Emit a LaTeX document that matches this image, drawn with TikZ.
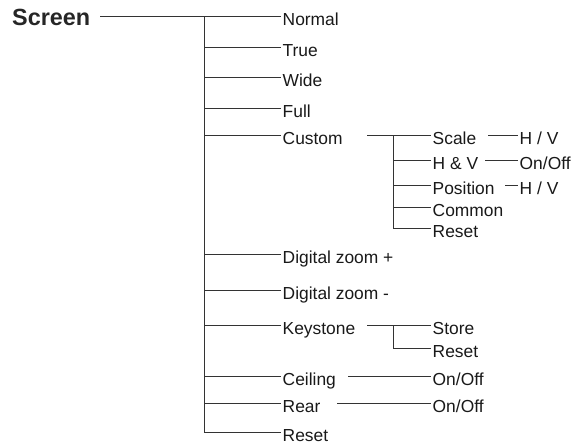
\documentclass[tikz,border=0pt]{standalone}
\usepackage{fontspec}
\setmainfont{Liberation Sans}
\begin{document}
\begin{tikzpicture}[x=1pt,y=-1pt,
  item/.style={anchor=base west,inner xsep=1.5pt,inner ysep=0pt,yshift=-9pt,font=\fontsize{17.4}{20}\selectfont,text=black!90},
  conn/.style={line width=1pt,draw=black!80}]
\useasboundingbox (0,0) rectangle (584,445);
\node[anchor=base west,inner xsep=0pt,inner ysep=0pt,font=\fontsize{23.4}{27}\bfseries\selectfont,text=black!85] (screen) at (12,25.5) {Screen};
\coordinate (s0) at (100,16);
\coordinate (t0) at (204,16);
% main items
\node[item] (normal) at (281,16) {Normal};
\node[item] (true) at (281,47) {True};
\node[item] (wide) at (281,77) {Wide};
\node[item] (full) at (281,108) {Full};
\node[item] (custom) at (281,135) {Custom};
\node[item] (dzp) at (281,254) {Digital zoom +};
\node[item] (dzm) at (281,290) {Digital zoom -};
\node[item] (key) at (281,325) {Keystone};
\node[item] (ceil) at (281,376) {Ceiling};
\node[item] (rear) at (281,403) {Rear};
\node[item] (reset) at (281,432) {Reset};
% custom sub
\node[item] (scale) at (431,135) {Scale};
\node[item] (hv) at (431,160) {H \& V};
\node[item] (pos) at (431,185) {Position};
\node[item] (common) at (431,207) {Common};
\node[item] (creset) at (431,228) {Reset};
\node[item] (scalehv) at (518,135) {H / V};
\node[item] (hvonoff) at (518,160) {On/Off};
\node[item] (poshv) at (518,185) {H / V};
% keystone sub
\node[item] (store) at (431,325) {Store};
\node[item] (kreset) at (431,348) {Reset};
\node[item] (ceilon) at (431,376) {On/Off};
\node[item] (rearon) at (431,403) {On/Off};
% coordinates for connector starts
\coordinate (c0) at (367,135);
\coordinate (ct) at (393,135);
\coordinate (k0) at (367,325);
\coordinate (kt) at (393,325);
\coordinate (sc0) at (488,135);
\coordinate (hv0) at (485,160);
\coordinate (ps0) at (505,185);
\coordinate (ce0) at (348,376);
\coordinate (re0) at (337,403);
% connectors
\draw[conn] (s0) -- (normal.west |- s0);
\foreach \n/\y in {true/47,wide/77,full/108,custom/135,dzp/254,dzm/290,key/325,ceil/376,rear/403,reset/432}
  \draw[conn] (t0) |- (\n.west |- 0,\y);
\draw[conn] (c0) -- (scale.west |- c0);
\foreach \n/\y in {hv/160,pos/185,common/207,creset/228}
  \draw[conn] (ct) |- (\n.west |- 0,\y);
\draw[conn] (sc0) -- (scalehv.west |- sc0);
\draw[conn] (hv0) -- (hvonoff.west |- hv0);
\draw[conn] (ps0) -- (poshv.west |- ps0);
\draw[conn] (k0) -- (store.west |- k0);
\draw[conn] (kt) |- (kreset.west |- 0,348);
\draw[conn] (ce0) -- (ceilon.west |- ce0);
\draw[conn] (re0) -- (rearon.west |- re0);
\end{tikzpicture}
\end{document}
